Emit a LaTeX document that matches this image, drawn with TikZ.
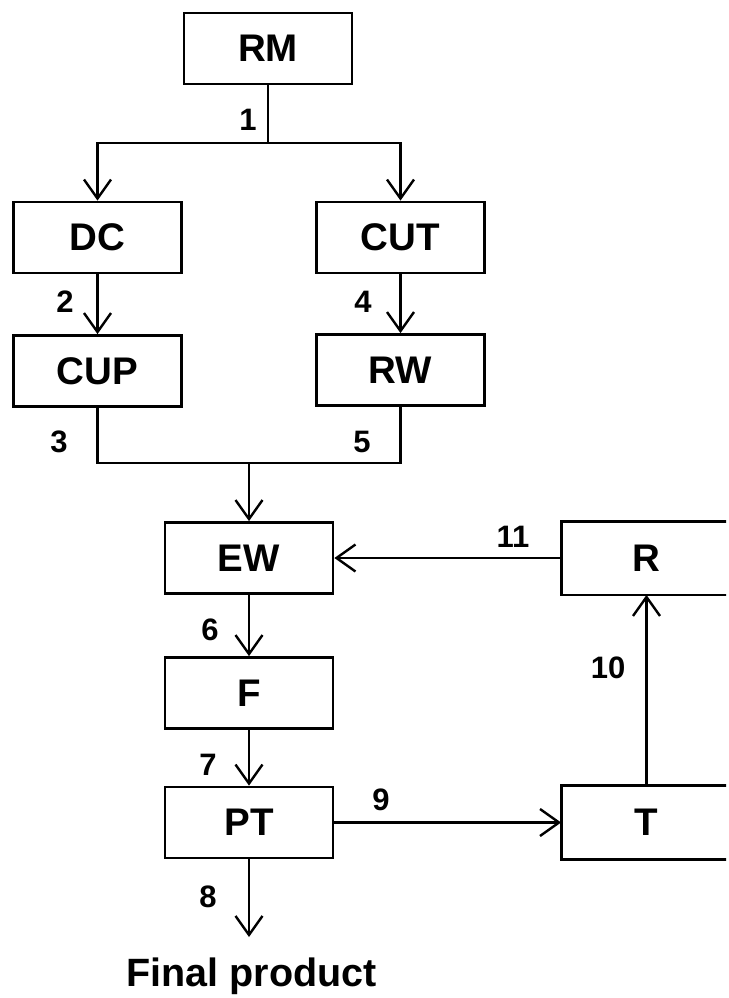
\documentclass[tikz,border=0pt]{standalone}
\usepackage{fontspec}
\setmainfont{Liberation Sans}
\usetikzlibrary{arrows.meta}
\begin{document}
\begin{tikzpicture}[x=1pt,y=-1pt,
  blk/.style={draw=black,line width=2.8pt,minimum width=168pt,minimum height=71pt,inner sep=0pt,
    font=\fontsize{38.5}{40}\selectfont\bfseries},
  openblk/.style={blk,draw=none},
  edge3/.style={line width=2.8pt,line join=miter},
  num/.style={font=\fontsize{31}{33}\selectfont\bfseries,inner sep=0pt},
  conn/.style={line width=2.4pt},
  arr/.style={conn,-{Straight Barb[length=19pt,width=27pt]}}]
\useasboundingbox (0,0) rectangle (728,998);
\clip (0,0) rectangle (726,998);
\node[blk] (RM)  at (268,48.5) {RM};
\node[blk] (DC)  at (97.5,237.5) {DC};
\node[blk] (CUT) at (400.5,237.5) {CUT};
\node[blk] (CUP) at (97.5,371) {CUP};
\node[blk] (RW)  at (400.5,370) {RW};
\node[blk] (EW)  at (249,558) {EW};
\node[openblk] (R)   at (646.5,558) {R};
\node[blk] (F)   at (249,693) {F};
\node[blk] (PT)  at (249,822.5) {PT};
\node[openblk] (T)   at (646.5,822.5) {T};
\draw[edge3] ([xshift=60pt]R.north east) -- (R.north west) -- (R.south west) -- ([xshift=60pt]R.south east);
\draw[edge3] ([xshift=60pt]T.north east) -- (T.north west) -- (T.south west) -- ([xshift=60pt]T.south east);
\node[font=\fontsize{39.5}{41}\selectfont\bfseries,inner sep=0pt,anchor=base] (FP) at (251.5,986) {Final product};
\coordinate (j1) at (268,143);
\coordinate (j2) at (249,463);
\coordinate (fp) at (249,937);
\draw[conn] (RM.south) -- (j1);
\draw[arr] (j1) -| (DC.north);
\draw[arr] (j1) -| (CUT.north);
\draw[arr] (DC.south) -- (CUP.north);
\draw[arr] (CUT.south) -- (RW.north);
\draw[conn] (CUP.south) |- (j2);
\draw[conn] (RW.south) |- (j2);
\draw[arr] (j2) -- (EW.north);
\draw[arr] (EW.south) -- (F.north);
\draw[arr] (F.south) -- (PT.north);
\draw[arr] (PT.south) -- (fp);
\draw[arr] (PT.east) -- (T.west);
\draw[arr] (T.north) -- (R.south);
\draw[arr] (R.west) -- (EW.east);
\node[num] (n1) at (248,120) {1};
\node[num] (n2) at (65,302) {2};
\node[num] (n4) at (363,302) {4};
\node[num] (n3) at (59,442) {3};
\node[num] (n5) at (362,442) {5};
\node[num] (n11) at (513,537) {11};
\node[num] (n6) at (210,630) {6};
\node[num] (n10) at (608,668) {10};
\node[num] (n7) at (208,765) {7};
\node[num] (n9) at (381,800) {9};
\node[num] (n8) at (208,897) {8};
\end{tikzpicture}
\end{document}
